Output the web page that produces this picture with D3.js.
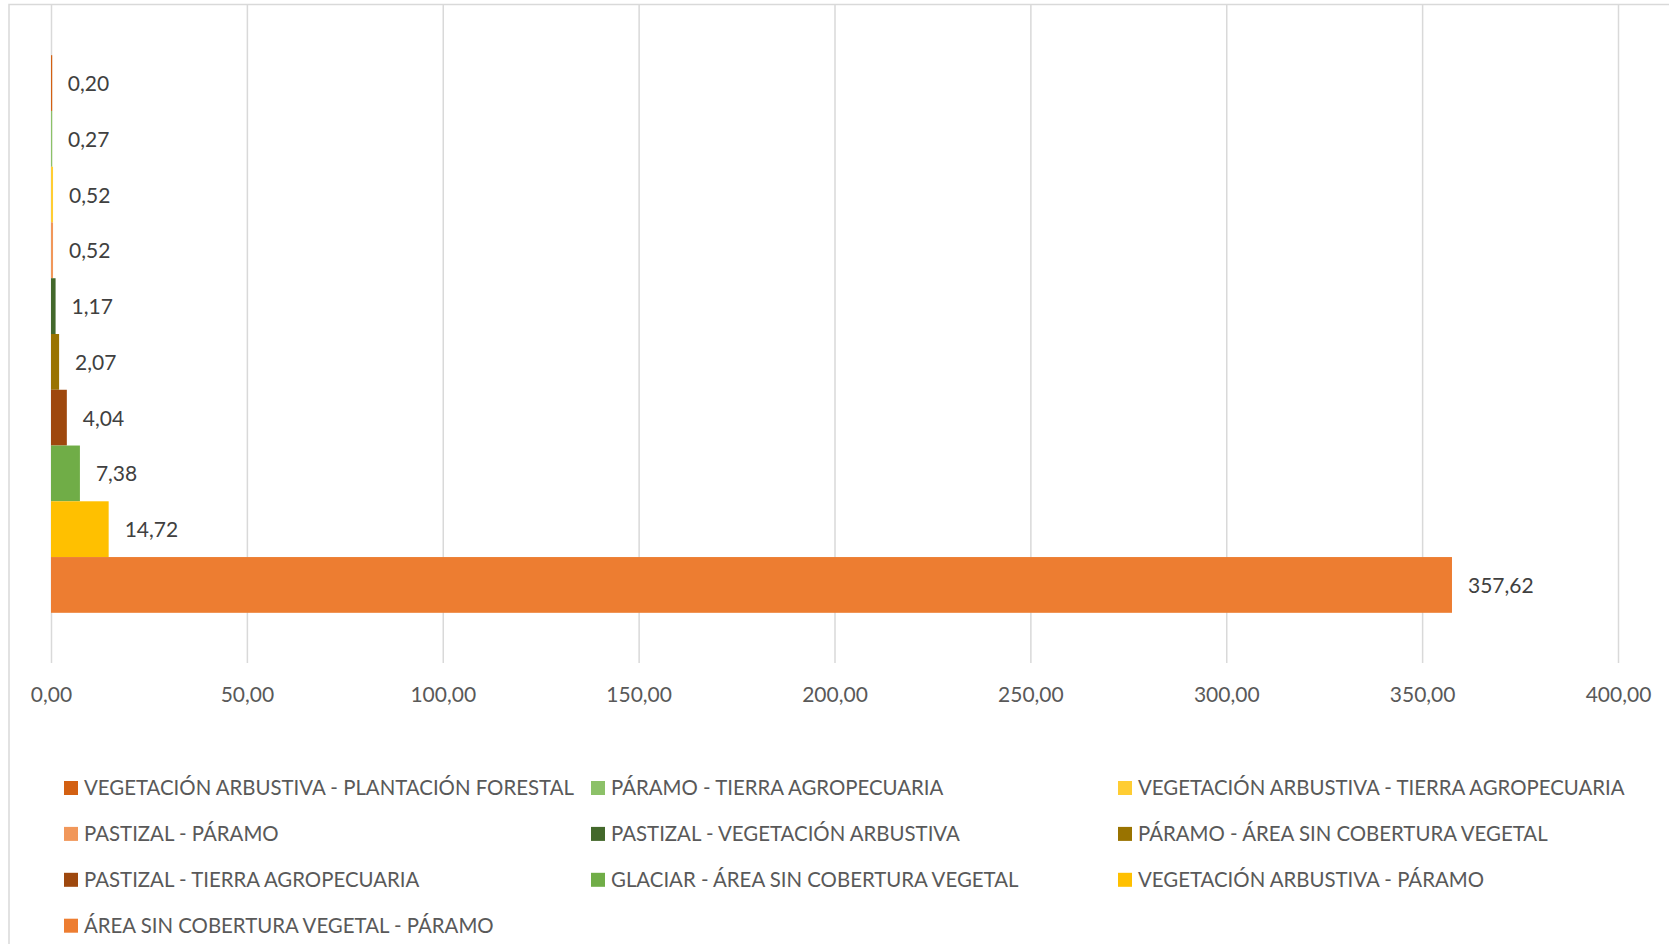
<!DOCTYPE html>
<html lang="es">
<head>
<meta charset="utf-8">
<title>Cambios de cobertura</title>
<script src="https://cdn.jsdelivr.net/npm/d3@7"></script>
<style>
  html, body { margin: 0; padding: 0; background: #ffffff; }
  svg { display: block; font-family: Lato, "Open Sans", sans-serif; }
</style>
</head>
<body>
<svg id="chart" width="1669" height="944"></svg>
<script>
// Transition categories (top to bottom) and their areas
const categories = [
  "VEGETACIÓN ARBUSTIVA - PLANTACIÓN FORESTAL",
  "PÁRAMO - TIERRA AGROPECUARIA",
  "VEGETACIÓN ARBUSTIVA - TIERRA AGROPECUARIA",
  "PASTIZAL - PÁRAMO",
  "PASTIZAL - VEGETACIÓN ARBUSTIVA",
  "PÁRAMO - ÁREA SIN COBERTURA VEGETAL",
  "PASTIZAL - TIERRA AGROPECUARIA",
  "GLACIAR - ÁREA SIN COBERTURA VEGETAL",
  "VEGETACIÓN ARBUSTIVA - PÁRAMO",
  "ÁREA SIN COBERTURA VEGETAL - PÁRAMO"
];
const values = [0.20, 0.27, 0.52, 0.52, 1.17, 2.07, 4.04, 7.38, 14.72, 357.62];
const colors = [
  "#D36012", "#8CC168", "#FFCD33", "#F1975A", "#43682B",
  "#997300", "#9E480E", "#70AD47", "#FFC000", "#ED7D31"
];
const xTicks = [0, 50, 100, 150, 200, 250, 300, 350, 400];

const es = d3.formatLocale({ decimal: ",", thousands: ".", grouping: [3], currency: ["", " €"] });
const fmt = es.format(".2f");

const svg = d3.select("#chart");

// Chart frame
svg.append("rect")
  .attr("x", 9).attr("y", 4.5)
  .attr("width", 1700).attr("height", 1000)
  .attr("fill", "none").attr("stroke", "#D9D9D9").attr("stroke-width", 1.5);

const plot = { left: 51, right: 1618, top: 5, bottom: 663 };

const x = d3.scaleLinear().domain([0, 400]).range([plot.left, plot.right]);
const y = d3.scaleBand().domain(categories)
  .range([plot.top, plot.bottom])
  .paddingInner(0).paddingOuter(0.9);

// Vertical gridlines
const grid = svg.append("g")
  .attr("transform", `translate(0,${plot.bottom})`)
  .call(d3.axisBottom(x).tickValues(xTicks)
    .tickSize(-(plot.bottom - plot.top)).tickFormat(""));
grid.select(".domain").remove();
grid.selectAll("line").attr("stroke", "#D9D9D9").attr("stroke-width", 1.5);

// Tick labels
const axis = svg.append("g")
  .attr("transform", `translate(0,${plot.bottom})`)
  .call(d3.axisBottom(x).tickValues(xTicks).tickSize(0).tickFormat(fmt));
axis.select(".domain").remove();
axis.selectAll("text")
  .attr("y", 32).attr("dy", "0.35em")
  .attr("fill", "#595959")
  .style("font-family", "Lato, sans-serif")
  .style("font-size", "21px");

// Bars
svg.append("g").selectAll("rect")
  .data(categories)
  .join("rect")
  .attr("x", x(0))
  .attr("y", d => y(d))
  .attr("width", (d, i) => Math.max(x(values[i]) - x(0), 1.2))
  .attr("height", y.bandwidth())
  .attr("fill", (d, i) => colors[i]);

// Value labels
svg.append("g").selectAll("text")
  .data(categories)
  .join("text")
  .attr("x", (d, i) => x(values[i]) + 16)
  .attr("y", d => y(d) + y.bandwidth() / 2)
  .attr("dy", "0.38em")
  .attr("fill", "#404040")
  .style("font-size", "21px")
  .text((d, i) => fmt(values[i]));

// Legend: three columns, row by row
const legend = svg.append("g");
const colX = [64, 591, 1118];
const rowY0 = 788, rowStep = 45.9;
const items = legend.selectAll("g")
  .data(categories)
  .join("g")
  .attr("transform", (d, i) => `translate(${colX[i % 3]},${rowY0 + Math.floor(i / 3) * rowStep})`);
items.append("rect")
  .attr("x", 0).attr("y", -7)
  .attr("width", 14).attr("height", 14)
  .attr("fill", (d, i) => colors[i]);
items.append("text")
  .attr("x", 20).attr("y", 0).attr("dy", "0.36em")
  .attr("fill", "#595959")
  .style("font-size", "20.4px")
  .text(d => d);
</script>
</body>
</html>
